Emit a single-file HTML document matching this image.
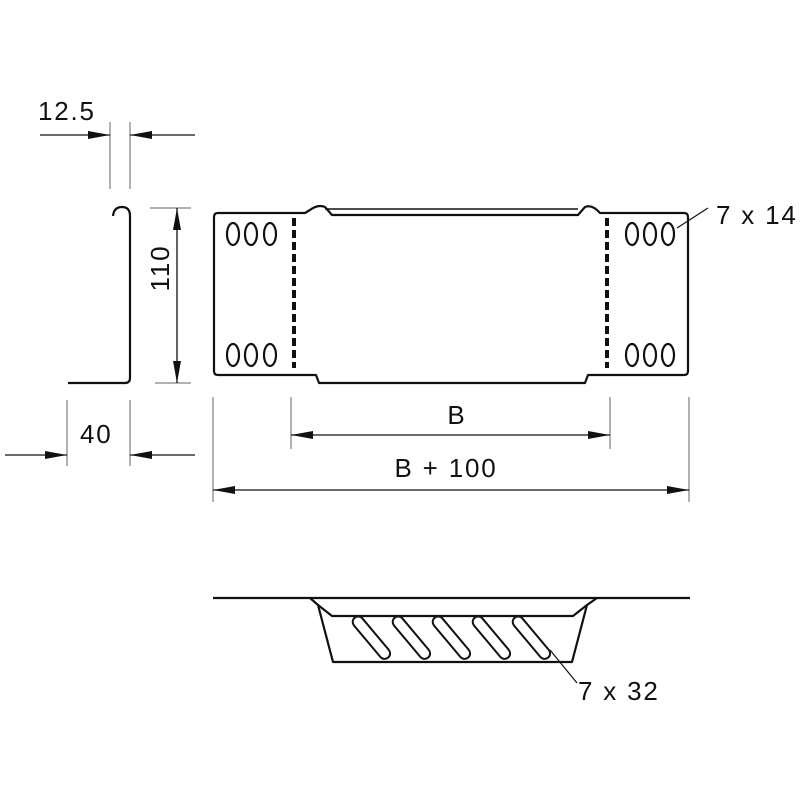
<!DOCTYPE html>
<html><head><meta charset="utf-8"><style>
html,body{margin:0;padding:0;background:#fff}
svg{display:block}
text{font-family:"Liberation Sans",sans-serif;fill:#111}
</style></head><body>
<svg width="800" height="800" viewBox="0 0 800 800" xmlns="http://www.w3.org/2000/svg">
<defs>
<marker id="a" viewBox="0 0 22 10" refX="22" refY="5" markerWidth="22" markerHeight="10" markerUnits="userSpaceOnUse" orient="auto"><path d="M0,1 L22,5 L0,9 Z" fill="#111"/></marker>
</defs>
<g stroke="#999" stroke-width="1.5" fill="none">
<line x1="110" y1="122" x2="110" y2="189"/><line x1="130" y1="122" x2="130" y2="189"/>
<line x1="150" y1="208" x2="191" y2="208"/><line x1="155" y1="383" x2="191" y2="383"/>
<line x1="67" y1="400" x2="67" y2="466"/><line x1="130" y1="400" x2="130" y2="466"/>
<line x1="291" y1="397" x2="291" y2="449"/><line x1="610" y1="397" x2="610" y2="449"/>
<line x1="213" y1="397" x2="213" y2="502"/><line x1="689" y1="397" x2="689" y2="502"/>
</g>
<g stroke="#111" stroke-width="1.3" fill="none">
<line x1="40" y1="135" x2="110" y2="135" marker-end="url(#a)"/>
<line x1="195" y1="135" x2="130" y2="135" marker-end="url(#a)"/>
<line x1="177" y1="295" x2="177" y2="208" marker-end="url(#a)"/>
<line x1="177" y1="295" x2="177" y2="383" marker-end="url(#a)"/>
<line x1="5" y1="455" x2="67" y2="455" marker-end="url(#a)"/>
<line x1="195" y1="455" x2="130" y2="455" marker-end="url(#a)"/>
<line x1="450" y1="435" x2="291" y2="435" marker-end="url(#a)"/>
<line x1="450" y1="435" x2="610" y2="435" marker-end="url(#a)"/>
<line x1="450" y1="490" x2="213" y2="490" marker-end="url(#a)"/>
<line x1="450" y1="490" x2="689" y2="490" marker-end="url(#a)"/>
</g>
<g stroke="#111" stroke-width="2.2" fill="none" stroke-linejoin="round">
<path d="M113,216 Q114,207 122,207 Q130,207 130,216 L130,378 Q130,383 125,383 L68,383"/>
<path d="M305,213 L218,213 Q214,213 214,217 L214,371 Q214,375 218,375 L316,375 L319,383 L585,383 L588,375 L684,375 Q688,375 688,371 L688,217 Q688,213 684,213 L600,213 Q592,204 585,207 L578,215 L332,215 L325,207 Q318,204 310,210 Z"/>
<path d="M325,209 L578,209" stroke-width="1.5"/>
<path d="M213,598 L310,598 L597,598 L690,598"/>
<path d="M310,598 L318,605 L333,662 L572,662 L587,605 L597,598"/>
<path d="M318,605 L332,616 L573,616 L587,605"/>
</g>
<g stroke="#111" stroke-width="2.2" fill="none">
<ellipse cx="233" cy="234" rx="6" ry="11"/><ellipse cx="251" cy="234" rx="6" ry="11"/><ellipse cx="270" cy="234" rx="6" ry="11"/>
<ellipse cx="233" cy="355" rx="6" ry="11"/><ellipse cx="251" cy="355" rx="6" ry="11"/><ellipse cx="270" cy="355" rx="6" ry="11"/>
<ellipse cx="632" cy="234" rx="6" ry="11"/><ellipse cx="650" cy="234" rx="6" ry="11"/><ellipse cx="668" cy="234" rx="6" ry="11"/>
<ellipse cx="632" cy="355" rx="6" ry="11"/><ellipse cx="650" cy="355" rx="6" ry="11"/><ellipse cx="668" cy="355" rx="6" ry="11"/>
</g>
<g stroke="#111" stroke-width="4" stroke-dasharray="8,4">
<line x1="294" y1="218" x2="294" y2="368"/><line x1="607" y1="218" x2="607" y2="368"/>
</g>
<g stroke="#111" stroke-width="2" fill="none">
<rect x="366" y="612" width="11" height="52" rx="5.5" transform="rotate(-40 371 638)"/>
<rect x="406" y="612" width="11" height="52" rx="5.5" transform="rotate(-40 411 638)"/>
<rect x="446" y="612" width="11" height="52" rx="5.5" transform="rotate(-40 451 638)"/>
<rect x="486" y="612" width="11" height="52" rx="5.5" transform="rotate(-40 491 638)"/>
<rect x="526" y="612" width="11" height="52" rx="5.5" transform="rotate(-40 531 638)"/>
</g>
<g stroke="#111" stroke-width="1.2">
<line x1="677" y1="228" x2="708" y2="208"/>
<line x1="550" y1="650" x2="577" y2="683"/>
</g>
<g font-size="26" letter-spacing="1.8">
<text x="38" y="120">12.5</text>
<text x="160" y="268" text-anchor="middle" transform="rotate(-90 160 268)" dy="9">110</text>
<text x="80" y="443">40</text>
<text x="457" y="424" text-anchor="middle">B</text>
<text x="446" y="477" text-anchor="middle">B + 100</text>
<text x="716" y="224">7 x 14</text>
<text x="578" y="700">7 x 32</text>
</g>
</svg>
</body></html>
